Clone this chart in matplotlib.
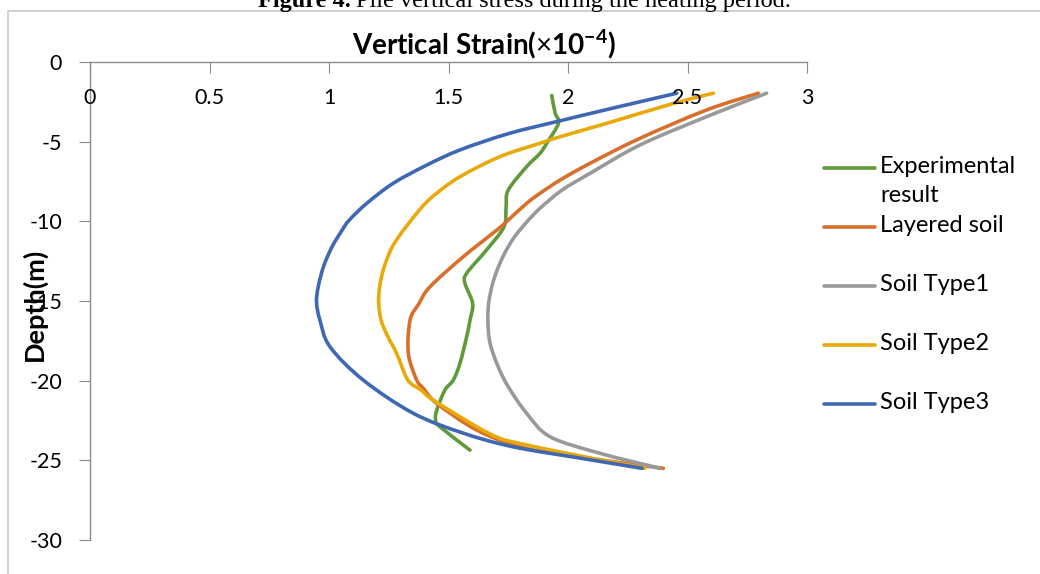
import matplotlib
matplotlib.use("Agg")
import numpy as np
import matplotlib.pyplot as plt
from matplotlib.lines import Line2D
from matplotlib.patches import Rectangle, PathPatch
from matplotlib.path import Path

plt.rcParams["font.family"] = ["Lato", "DejaVu Sans"]
plt.rcParams["mathtext.fontset"] = "custom"
plt.rcParams["mathtext.rm"] = "Lato"
plt.rcParams["mathtext.bf"] = "Lato:bold"

# strain (x1e-4) against depth (m)
exp_strain = [1.932, 1.946, 1.960, 1.911, 1.883, 1.827, 1.750, 1.741, 1.732, 1.659,
              1.576, 1.569, 1.601, 1.590, 1.576, 1.548, 1.520, 1.485, 1.451, 1.446,
              1.464, 1.590]
exp_depth = [-2.1, -3.2, -3.85, -5.1, -5.73, -6.57, -8.04, -9.08, -10.34, -11.8,
             -13.26, -13.89, -15.15, -16.2, -17.24, -18.91, -19.96, -20.59, -21.85, -22.47,
             -22.89, -24.36]

layered_strain = [2.796, 2.580, 2.301, 2.092, 1.967, 1.883, 1.827, 1.750, 1.702, 1.562,
                  1.423, 1.375, 1.339, 1.332, 1.367, 1.395, 1.451, 1.618, 1.799, 1.995,
                  2.399]
layered_depth = [-1.96, -3.01, -4.79, -6.36, -7.41, -8.24, -8.87, -9.92, -10.55, -12.22,
                 -14.10, -15.2, -16.20, -18.29, -19.96, -20.48, -21.43, -23.10, -24.15, -24.68,
                 -25.50]

type1_strain = [2.831, 2.580, 2.301, 2.092, 1.975, 1.883, 1.830, 1.775, 1.735, 1.705,
                1.683, 1.668, 1.665, 1.674, 1.708, 1.750, 1.827, 1.925, 2.134, 2.385]
type1_depth = [-1.96, -3.43, -5.21, -6.99, -8.04, -9.18, -10.0, -11.0, -12.0, -13.0,
               -14.0, -15.15, -16.3, -17.66, -19.13, -20.38, -22.05, -23.52, -24.56, -25.50]

type2_strain = [2.608, 2.441, 2.162, 1.967, 1.883, 1.715, 1.548, 1.450, 1.395, 1.340,
                1.290, 1.258, 1.228, 1.212, 1.208, 1.218, 1.245, 1.283, 1.330, 1.385,
                1.436, 1.618, 1.715, 1.799, 1.995, 2.322]
type2_depth = [-1.96, -2.6, -3.85, -4.69, -5.10, -5.94, -7.20, -8.24, -9.0, -10.0,
               -11.0, -11.80, -13.0, -14.10, -15.1, -16.20, -17.2, -18.29, -19.96, -20.59,
               -21.22, -22.89, -23.62, -23.94, -24.56, -25.50]

type3_strain = [2.455, 2.200, 1.950, 1.750, 1.548, 1.409, 1.269, 1.158, 1.085, 1.055,
                1.013, 0.978, 0.955, 0.948, 0.962, 1.004, 1.143, 1.353, 1.561, 1.770,
                2.050, 2.310]
type3_depth = [-1.96, -2.85, -3.75, -4.5, -5.52, -6.47, -7.61, -8.87, -9.92, -10.55,
               -11.59, -12.8, -14.10, -15.1, -16.20, -17.87, -19.96, -22.05, -23.29, -24.15,
               -24.86, -25.50]

series_names = ["Experimental\nresult", "Layered soil", "Soil Type1", "Soil Type2", "Soil Type3"]
series_colors = ["#5f9b3b", "#d8702c", "#999999", "#e8aa0a", "#3f68b2"]

x_ticks = [0, 0.5, 1, 1.5, 2, 2.5, 3]
x_tick_labels = ["0", "0.5", "1", "1.5", "2", "2.5", "3"]
y_ticks = [0, -5, -10, -15, -20, -25, -30]
y_tick_labels = ["0", "-5", "-10", "-15", "-20", "-25", "-30"]


def smooth_path(xs, ys):
    """Catmull-Rom curve through the points, as cubic Bezier segments."""
    pts = np.column_stack([xs, ys])
    padded = np.vstack([pts[0], pts, pts[-1]])
    verts = [pts[0]]
    codes = [Path.MOVETO]
    for i in range(1, len(padded) - 2):
        p0, p1, p2, p3 = padded[i - 1], padded[i], padded[i + 1], padded[i + 2]
        verts += [p1 + (p2 - p0) / 6, p2 - (p3 - p1) / 6, p2]
        codes += [Path.CURVE4] * 3
    return Path(verts, codes)


W, H = 1040, 574
fig = plt.figure(figsize=(W / 100, H / 100), dpi=100)
fig.patch.set_facecolor("white")

# chart frame
fig.patches.append(Rectangle((8 / W, -0.1), 1.2, 1 - 11 / H + 0.1, transform=fig.transFigure,
                             fill=False, edgecolor="#c8c8c8", linewidth=1.2))

ax = fig.add_axes([90 / W, 1 - 540 / H, (807 - 90) / W, (540 - 62) / H])
ax.set_xlim(0, 3)
ax.set_ylim(-30, 0)
ax.patch.set_alpha(0)

data = [(exp_strain, exp_depth), (layered_strain, layered_depth), (type1_strain, type1_depth),
        (type2_strain, type2_depth), (type3_strain, type3_depth)]
for (xs, ys), color in zip(data, series_colors):
    ax.add_patch(PathPatch(smooth_path(xs, ys), fill=False, edgecolor=color,
                           linewidth=2.6, capstyle="round", joinstyle="round"))

for side in ["right", "bottom"]:
    ax.spines[side].set_visible(False)
for side in ["left", "top"]:
    ax.spines[side].set_color("#8c8c8c")
    ax.spines[side].set_linewidth(1.0)

ax.xaxis.tick_top()
ax.set_xticks(x_ticks)
ax.tick_params(axis="x", direction="in", length=8, color="#8c8c8c", labeltop=False)
for v, lab in zip(x_ticks, x_tick_labels):
    ax.text(v, 1 - 36 / 478, lab, transform=ax.get_xaxis_transform(),
            ha="center", va="center", fontsize=15.5)

ax.set_yticks(y_ticks)
ax.set_yticklabels(y_tick_labels, fontsize=15.5)
ax.tick_params(axis="y", direction="out", length=8, color="#8c8c8c", pad=12)

fig.text(484 / W, 1 - 44 / H, r"Vertical Strain($\times$10$^{\mathbf{-4}}$)",
         ha="center", va="center", fontsize=20, fontweight="bold")
fig.text(34 / W, 1 - 304 / H, "Depth(m)", rotation=90, ha="center", va="center",
         fontsize=19.5, fontweight="bold")

# caption above the chart frame
renderer = fig.canvas.get_renderer()
cap1 = fig.text(258 / W, 1 - 7 / H, "Figure 4.", family="Liberation Serif",
                fontweight="bold", fontsize=17.5, ha="left", va="baseline")
bb = cap1.get_window_extent(renderer)
fig.text(bb.x1 / W + 5 / W, 1 - 7 / H, "Pile vertical stress during the heating period.",
         family="Liberation Serif", fontsize=17.5, ha="left", va="baseline")

# legend
leg_y = [168, 227, 286, 345, 404]
for name, color, y in zip(series_names, series_colors, leg_y):
    fig.add_artist(Line2D([824 / W, 875 / W], [1 - y / H, 1 - y / H], color=color,
                          linewidth=2.6, solid_capstyle="round"))
    fig.text(880 / W, 1 - (y - 12) / H, name, ha="left", va="top", fontsize=17,
             linespacing=1.5)

fig.savefig("out.png", dpi=100)
